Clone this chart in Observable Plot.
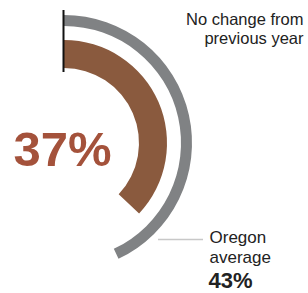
<!DOCTYPE html>
<html><head><meta charset="utf-8">
<script src="https://cdn.jsdelivr.net/npm/d3@7"></script>
<script src="https://cdn.jsdelivr.net/npm/@observablehq/plot@0.6"></script>
<style>body{margin:0;background:#fff}</style>
</head><body>
<div id="chart"></div>
<script>
const series = ["County", "Oregon average"];
const values = [37, 43];
const valueLabels = ["37%", "43%"];
const noteLines = ["No change from", "previous year"];
const stateLines = ["Oregon", "average"];

const W = 308, H = 293;
const cx = 64, cy = 143;
const rings = [
  {name: series[0], value: values[0], inner: 75, outer: 103, fill: "#8a5a3e"},
  {name: series[1], value: values[1], inner: 117, outer: 128, fill: "#808284"}
];
const angle = Plot.scale({x: {type: "linear", domain: [0, 100], range: [0, 2 * Math.PI]}});

function arcs(index, scales) {
  const g = d3.create("svg:g");
  const arc = d3.arc();
  g.selectAll("path").data(rings).join("path")
    .attr("transform", `translate(${scales.x(cx)},${scales.y(cy)})`)
    .attr("fill", d => d.fill)
    .attr("d", d => arc({innerRadius: d.inner, outerRadius: d.outer, startAngle: 0, endAngle: angle.apply(d.value)}));
  return g.node();
}

const plot = Plot.plot({
  width: W, height: H, margin: 0,
  x: {domain: [0, W], range: [0, W], axis: null},
  y: {domain: [0, H], range: [0, H], axis: null},
  style: {fontFamily: "Liberation Sans, Arial, sans-serif", background: "#fff"},
  marks: [
    arcs,
    Plot.ruleX([cx - 1], {y1: 10, y2: 72, stroke: "#111", strokeWidth: 2}),
    Plot.ruleY([239], {x1: 158, x2: 203, stroke: "#c8c8c8", strokeWidth: 1.5}),
    Plot.text([valueLabels[0]], {x: 13, y: 150, text: d => d, textAnchor: "start", fill: "#a4523b", fontSize: 49, fontWeight: "bold"}),
    Plot.text(noteLines, {x: 303, y: (d, i) => 19 + i * 19, text: d => d, textAnchor: "end", fill: "#222", fontSize: 16.5}),
    Plot.text(stateLines, {x: 209, y: (d, i) => 237 + i * 20, text: d => d, textAnchor: "start", fill: "#222", fontSize: 17}),
    Plot.text([valueLabels[1]], {x: 208, y: 280, text: d => d, textAnchor: "start", fill: "#222", fontSize: 22, fontWeight: "bold"})
  ]
});
document.getElementById("chart").append(plot);
</script>
</body></html>
